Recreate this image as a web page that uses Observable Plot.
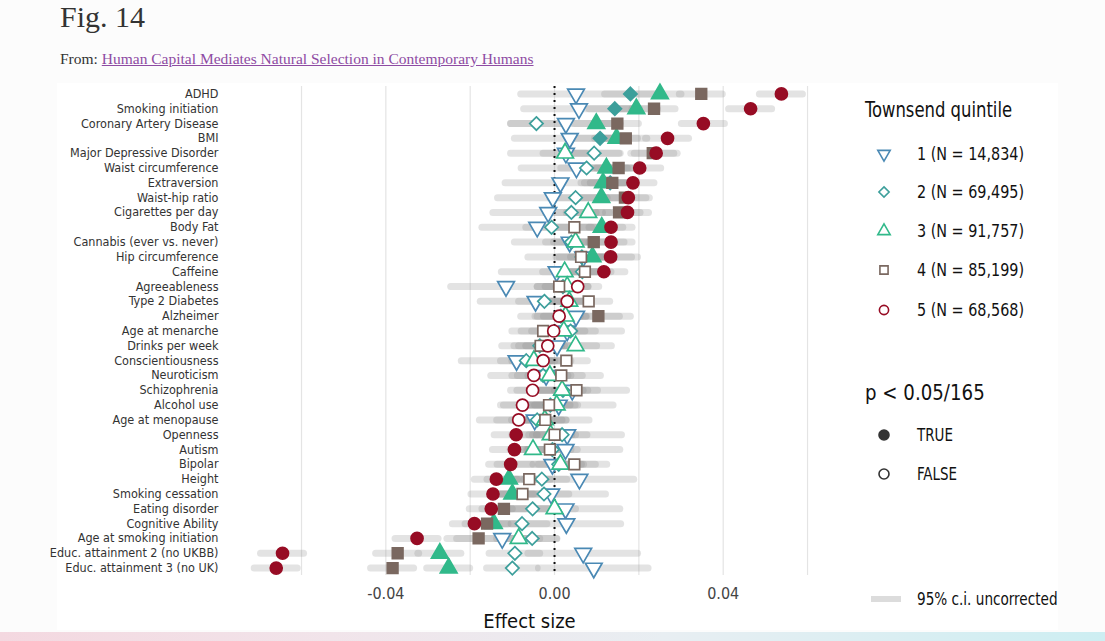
<!DOCTYPE html>
<html>
<head>
<meta charset="utf-8">
<script src="https://cdn.jsdelivr.net/npm/d3@7"></script>
<script src="https://cdn.jsdelivr.net/npm/@observablehq/plot@0.6"></script>
<style>
  body { margin: 0; width: 1105px; height: 641px; background: #fcfcfc; position: relative; overflow: hidden; }
  #title { position: absolute; left: 60px; top: 0px; font: 30px "Liberation Serif", serif; color: #333; }
  #from { position: absolute; left: 60px; top: 50px; font: 15.5px "Liberation Serif", serif; color: #333; }
  #from a { color: #8e4ba3; }
  #card { position: absolute; left: 57px; top: 83px; width: 1001px; height: 547px; background: white; }
  #chart { position: absolute; left: 57px; top: 83px; }
  #legend { position: absolute; left: 845px; top: 85px; }
  #stripe { position: absolute; left: 0; top: 632px; width: 1105px; height: 9px;
    background: linear-gradient(to right, #f4d8e0, #f1e4ea 30%, #e8eef2 60%, #cdeef2); }
</style>
</head>
<body>
<div id="title">Fig. 14</div>
<div id="from">From: <a href="#">Human Capital Mediates Natural Selection in Contemporary Humans</a></div>
<div id="card"></div>
<div id="chart"></div>
<div id="legend"></div>
<div id="stripe"></div>
<script>
const traits = ["ADHD", "Smoking initiation", "Coronary Artery Disease", "BMI", "Major Depressive Disorder",
  "Waist circumference", "Extraversion", "Waist-hip ratio", "Cigarettes per day", "Body Fat",
  "Cannabis (ever vs. never)", "Hip circumference", "Caffeine", "Agreeableness", "Type 2 Diabetes",
  "Alzheimer", "Age at menarche", "Drinks per week", "Conscientiousness", "Neuroticism",
  "Schizophrenia", "Alcohol use", "Age at menopause", "Openness", "Autism", "Bipolar", "Height",
  "Smoking cessation", "Eating disorder", "Cognitive Ability", "Age at smoking initiation",
  "Educ. attainment 2 (no UKBB)", "Educ. attainment 3 (no UK)"];

// effect sizes per Townsend quintile (1 = least deprived)
const q1 = [0.0051, 0.0058, 0.0027, 0.0036, 0.0027, 0.0052, 0.0014, -0.0004, -0.0015, -0.0041,
  0.0036, 0.0068, 0.0005, -0.0115, -0.0045, 0.0051, 0.003, 0.0006, -0.009, -0.002,
  0.0042, 0.001, -0.0047, 0.003, 0.0026, -0.0005, 0.0059, -0.0008, 0.0026, 0.0028, -0.0124,
  0.0068, 0.0093];
const q2 = [0.018, 0.0143, -0.0043, 0.0108, 0.0094, 0.0076, 0.0132, 0.005, 0.004, -0.0007,
  0.004, 0.0065, 0.0066, 0.002, -0.0024, 0.0015, 0.0038, -0.0035, -0.0067, -0.0027,
  0.002, -0.001, -0.0041, 0.0018, -0.0005, 0.001, -0.003, -0.0025, -0.0052, -0.0077, -0.0053,
  -0.0094, -0.01];
const q3 = [0.025, 0.0194, 0.0099, 0.0147, 0.0025, 0.0123, 0.0115, 0.0111, 0.008, 0.0112,
  0.005, 0.009, 0.0024, 0.003, 0.0035, 0.0026, 0.0022, 0.005, -0.0049, -0.0011,
  0.0018, 0.0005, -0.0023, -0.0009, -0.0051, 0.0014, -0.0108, -0.01, 0.0, -0.0144, -0.0085,
  -0.0272, -0.0251];
const q4 = [0.0348, 0.0236, 0.0149, 0.0169, 0.0233, 0.0152, 0.0137, 0.0167, 0.0153, 0.0047,
  0.0093, 0.0063, 0.0072, 0.0011, 0.0081, 0.0104, -0.0027, -0.0033, 0.0028, 0.0016,
  0.0052, -0.0013, -0.0022, 0.0, -0.0011, 0.0047, -0.006, -0.0076, -0.012, -0.016, -0.018,
  -0.0372, -0.0384];
const q5 = [0.0538, 0.0465, 0.0353, 0.0268, 0.0241, 0.0202, 0.0186, 0.0175, 0.0173, 0.0134,
  0.0134, 0.0133, 0.0117, 0.0055, 0.003, 0.0011, -0.0002, -0.0016, -0.0027, -0.0049,
  -0.0052, -0.0076, -0.0085, -0.0091, -0.0095, -0.0104, -0.0138, -0.0146, -0.015, -0.019, -0.0326,
  -0.0645, -0.066];

// p < 0.05/165 (1 = filled symbol)
const sig1 = Array(33).fill(0);
const sig2 = [1,1,0,1,0,0,1,0,0,0, 0,0,0,0,0,0,0,0,0,0, 0,0,0,0,0,0,0,0,0,0, 0,0,0];
const sig3 = [1,1,1,1,0,1,1,1,0,1, 0,1,0,0,0,0,0,0,0,0, 0,0,0,0,0,0,1,1,0,1, 0,1,1];
const sig4 = [1,1,1,1,1,1,1,1,1,0, 1,0,0,0,0,1,0,0,0,0, 0,0,0,0,0,0,0,0,1,1, 1,1,1];
const sig5 = [1,1,1,1,1,1,1,1,1,1, 1,1,1,0,0,0,0,0,0,0, 0,0,0,1,1,1,1,1,1,1, 1,1,1];

// half width of the 95% c.i. per quintile
const ciHalf = [0.013, 0.006, 0.0051, 0.0051, 0.0051];

const quintileLabels = ["1 (N = 14,834)", "2 (N = 69,495)", "3 (N = 91,757)", "4 (N = 85,199)", "5 (N = 68,568)"];
const colors = ["#4a89b4", "#3c9f9b", "#31b98a", "#7a6860", "#970c24"];

const triangleDown = {
  draw(context, size) {
    const y = -Math.sqrt(size / (Math.sqrt(3) * 3));
    context.moveTo(0, -y * 2);
    context.lineTo(-Math.sqrt(3) * y, y);
    context.lineTo(Math.sqrt(3) * y, y);
    context.closePath();
  }
};
const symbols = [triangleDown, "diamond2", "triangle", "square", "circle"];
const radius = [6.2, 6, 6.2, 6, 6];

const values = [q1, q2, q3, q4, q5];
const sigs = [sig1, sig2, sig3, sig4, sig5];
const rows = [];
values.forEach((vals, k) => {
  vals.forEach((v, i) => {
    rows.push({trait: traits[i], q: k, value: v, sig: sigs[k][i] === 1,
      lo: v - ciHalf[k], hi: v + ciHalf[k]});
  });
});

const font = '"Liberation Sans Narrow", "DejaVu Sans Condensed", "Arial Narrow", sans-serif';

const chart = Plot.plot({
  width: 790,
  height: 547,
  marginLeft: 201,
  marginRight: 29,
  marginTop: 3,
  marginBottom: 55,
  x: {domain: [-0.0702, 0.0626]},
  y: {type: "point", domain: traits, padding: 0.5, round: false},
  style: {fontFamily: font, background: "white", overflow: "visible"},
  marks: [
    Plot.gridX([-0.06, -0.04, -0.02, 0, 0.02, 0.04, 0.06], {stroke: "#e4e4e4", strokeOpacity: 1, strokeWidth: 1.2}),
    Plot.ruleY(rows, {y: "trait", x1: "lo", x2: "hi", stroke: "#8c8c8c", strokeOpacity: 0.24,
      strokeWidth: 7, strokeLinecap: "round"}),
    Plot.ruleX([0], {stroke: "#111", strokeWidth: 2, strokeDasharray: "2,5"}),
    ...symbols.map((s, k) => Plot.dot(rows.filter(d => d.q === k), {
      x: "value", y: "trait", symbol: s, r: radius[k],
      fill: d => d.sig ? colors[k] : "white",
      stroke: colors[k], strokeWidth: 1.7
    })),
    Plot.axisY({tickSize: 0, tickPadding: 40, fontSize: 12.5, label: null, color: "#333"}),
    Plot.axisX({ticks: [-0.04, 0, 0.04], tickFormat: d => d.toFixed(2), tickSize: 0, tickPadding: 12,
      fontSize: 16, label: null, color: "#444"}),
    Plot.text(["Effect size"], {frameAnchor: "bottom", dx: -9, dy: 52, fontSize: 20, fill: "#111"})
  ]
});
document.getElementById("chart").append(chart);

// legend (text squeezed to mimic the condensed face of the original)
const lg = d3.select("#legend").append("svg").attr("width", 230).attr("height", 530)
  .style("font-family", font).style("overflow", "visible");
const label = (x, y, size, txt, sx = 0.9) => lg.append("text")
  .attr("transform", `translate(${x},${y}) scale(${sx},1)`).attr("dy", "0.35em")
  .attr("font-size", size).attr("fill", "#111").text(txt);

label(20, 25, 21, "Townsend quintile", 0.87);
const itemY = [69, 107, 146, 185, 225];
quintileLabels.forEach((txt, k) => {
  const sym = typeof symbols[k] === "string"
    ? {diamond2: d3.symbolDiamond2, triangle: d3.symbolTriangle, square: d3.symbolSquare, circle: d3.symbolCircle}[symbols[k]]
    : symbols[k];
  lg.append("path").attr("transform", `translate(39,${itemY[k]})`)
    .attr("d", d3.symbol(sym, Math.PI * 4.6 * 4.6)())
    .attr("fill", "none").attr("stroke", colors[k]).attr("stroke-width", 1.6);
  label(72, itemY[k], 17, txt, 0.94);
});
label(20, 307, 22, "p < 0.05/165", 0.92);
[["TRUE", 350, "#333"], ["FALSE", 389, "white"]].forEach(([t, y, f]) => {
  lg.append("circle").attr("cx", 39).attr("cy", y).attr("r", 5).attr("fill", f)
    .attr("stroke", "#333").attr("stroke-width", 1.6);
  label(72, y, 17, t, 0.88);
});
lg.append("line").attr("x1", 26).attr("x2", 56).attr("y1", 514).attr("y2", 514)
  .attr("stroke", "#dcdcdc").attr("stroke-width", 6);
label(72, 514, 17, "95% c.i. uncorrected", 0.89);
</script>
</body>
</html>
